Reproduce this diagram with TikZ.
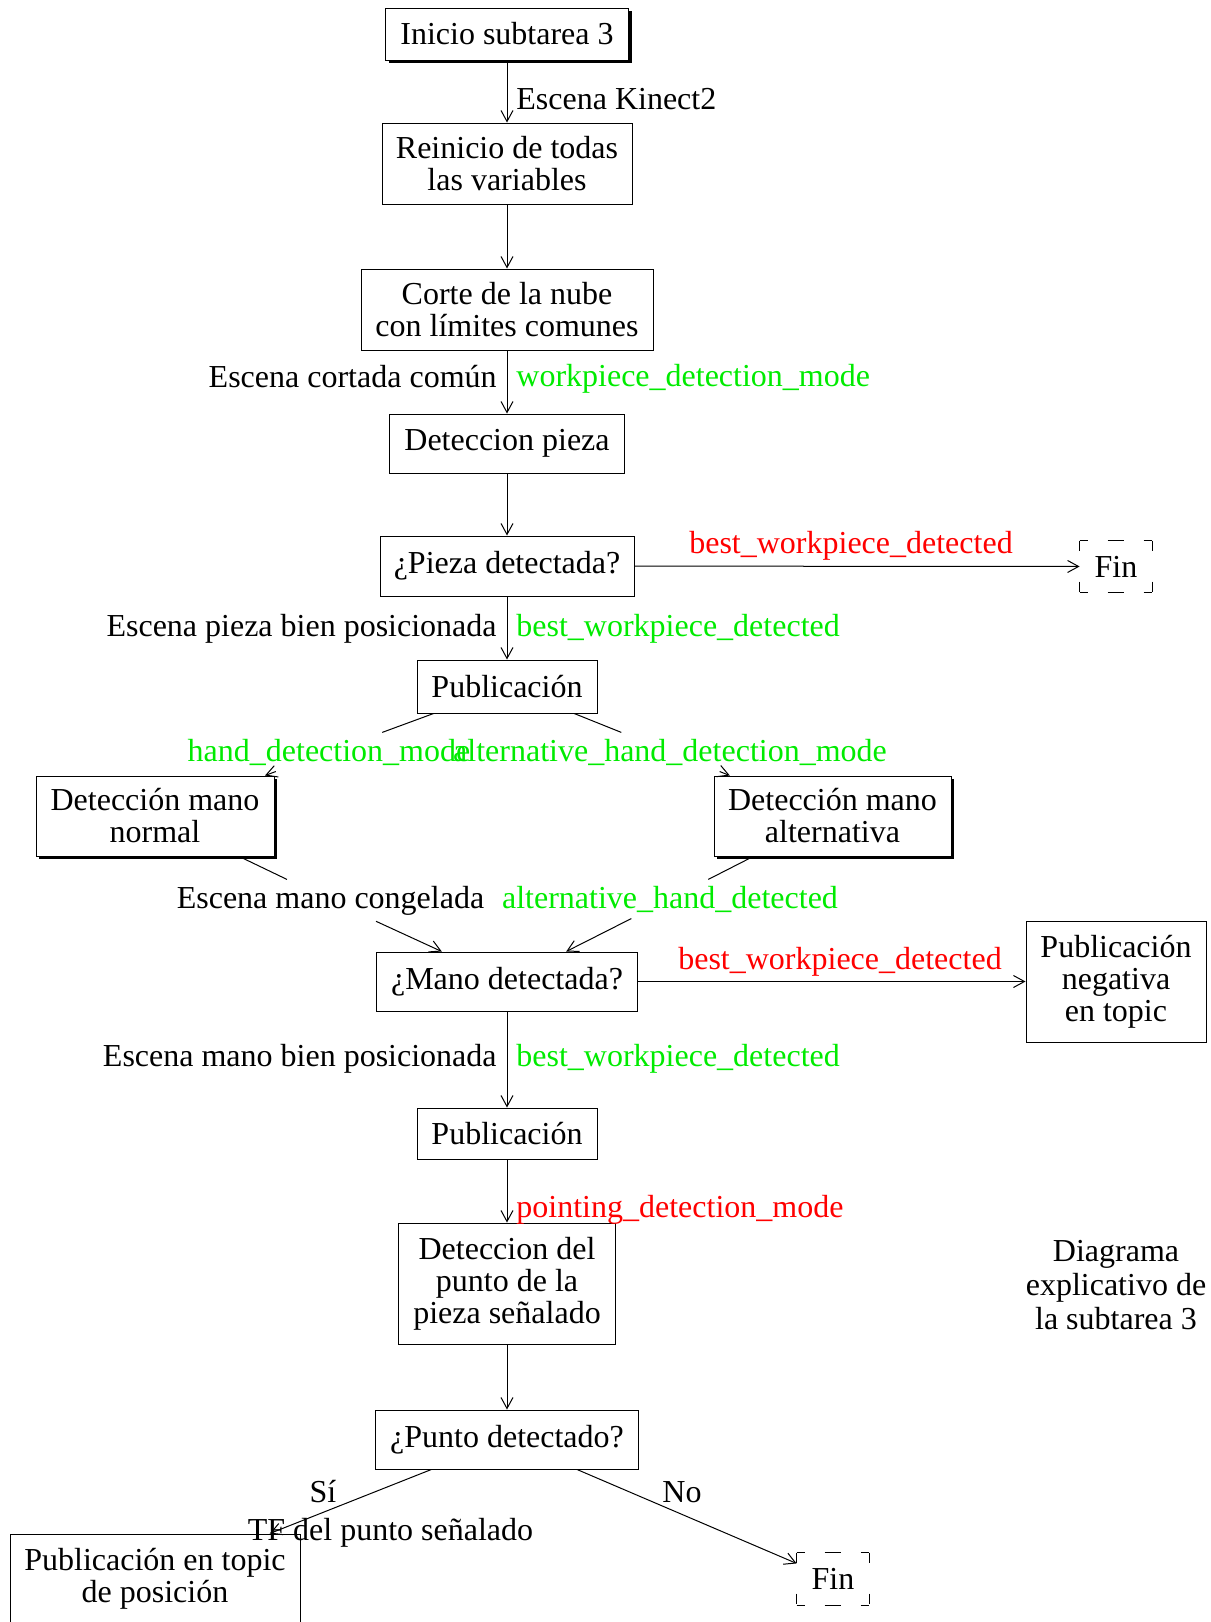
\documentclass[tikz,border=0pt]{standalone}
\usepackage{fontspec}
\setmainfont{Liberation Serif}
\usetikzlibrary{shadows,arrows.meta}
\definecolor{vgreen}{RGB}{0,235,0}
\definecolor{vred}{RGB}{255,0,0}
\newcommand{\finframe}[1]{%
  \draw[line width=0.5pt, dash pattern=on 4pt off 10pt on 8pt off 10pt on 4pt] (#1.north west) -- (#1.north east);
  \draw[line width=0.5pt, dash pattern=on 4pt off 10pt on 8pt off 10pt on 4pt] (#1.south west) -- (#1.south east);
  \draw[line width=0.5pt, dash pattern=on 5pt off 15.5pt on 5pt] (#1.north west) -- (#1.south west);
  \draw[line width=0.5pt, dash pattern=on 5pt off 15.5pt on 5pt] (#1.north east) -- (#1.south east);
}
\begin{document}
\begin{tikzpicture}[x=0.5pt,y=-0.5pt,
  every node/.style={font=\fontsize{16}{16}\selectfont},
  box/.style={draw, line width=0.5pt, inner sep=0pt, align=center, fill=white},
  shbox/.style={box, drop shadow={shadow xshift=1.6pt, shadow yshift=-1.6pt, fill=black, opacity=1}},
  finbox/.style={inner sep=0pt, align=center},
  lbl/.style={inner sep=0.5pt},
  gap/.style={inner sep=3pt, anchor=base},
  gl/.style={text=vgreen},
  rl/.style={text=vred},
  ln/.style={line width=0.5pt},
  arr/.style={line width=0.5pt, -{Straight Barb[length=5.5pt,width=6pt]}},
]
\path[use as bounding box, clip] (0,0) rectangle (1210,1622);

% nodes
\node[shbox, minimum width=121.5pt, minimum height=26pt] (inicio) at (507,34) {Inicio subtarea 3};
\node[box, minimum width=125pt, minimum height=40.5pt] (reinicio) at (507,163.5) {Reinicio de todas\\las variables};
\node[box, minimum width=146pt, minimum height=40.5pt] (corte) at (507,309.5) {Corte de la nube\\con límites comunes};
\node[box, minimum width=117.5pt, minimum height=29.5pt] (detpieza) at (507,443.5) {Deteccion pieza};
\node[box, minimum width=127pt, minimum height=30pt] (piezadet) at (507,566) {¿Pieza detectada?};
\node[finbox, minimum width=36pt, minimum height=25.5pt] (fin1) at (1116,566.5) {Fin};
\node[box, minimum width=90pt, minimum height=26.5pt] (pub1) at (507,686.5) {Publicación};
\node[shbox, minimum width=119pt, minimum height=40pt] (dmn) at (155,816) {Detección mano\\normal};
\node[shbox, minimum width=118.5pt, minimum height=40pt] (dma) at (832.5,816) {Detección mano\\alternativa};
\node[box, minimum width=130.5pt, minimum height=29.5pt] (mano) at (507,981.5) {¿Mano detectada?};
\node[box, minimum width=90pt, minimum height=60.5pt] (pubneg) at (1116,981.5) {Publicación\\negativa\\en topic};
\node[box, minimum width=90pt, minimum height=25.5pt] (pub2) at (507,1133.5) {Publicación};
\node[box, minimum width=108.5pt, minimum height=60.5pt] (detpunto) at (507,1283.5) {Deteccion del\\punto de la\\pieza señalado};
\node[box, minimum width=131.5pt, minimum height=29.5pt] (punto) at (507,1439.5) {¿Punto detectado?};
\node[box, minimum width=145pt, minimum height=45pt] (pubtopic) at (155,1579) {Publicación en topic\\de posición};
\node[finbox, minimum width=36pt, minimum height=26pt] (fin2) at (833,1579) {Fin};
\node[align=center, font=\fontsize{16}{17}\selectfont] (title) at (1116,1285) {Diagrama\\explicativo de\\la subtarea 3};
\finframe{fin1}
\finframe{fin2}

% labels
\node[lbl, anchor=base west] (lkin) at (515,109) {Escena Kinect2};
\node[lbl, anchor=base east] (lcor) at (498,387) {Escena cortada común};
\node[lbl, gl, anchor=base west] (lwdm) at (515,386) {workpiece\_detection\_mode};
\node[lbl, rl, anchor=base] (lbw1) at (851,553) {best\_workpiece\_detected};
\node[lbl, anchor=base east] (lepb) at (498,636) {Escena pieza bien posicionada};
\node[lbl, gl, anchor=base west] (lbw2) at (515,636) {best\_workpiece\_detected};
\node[gap, gl] (lhdm) at (329,761) {hand\_detection\_mode};
\node[gap, gl] (lahdm) at (670,761) {alternative\_hand\_detection\_mode};
\node[gap] (lemc) at (330.5,908) {Escena mano congelada};
\node[gap, gl] (lahd) at (670,908) {alternative\_hand\_detected};
\node[lbl, rl, anchor=base] (lbw3) at (840,969) {best\_workpiece\_detected};
\node[lbl, anchor=base east] (lemb) at (498,1066) {Escena mano bien posicionada};
\node[lbl, gl, anchor=base west] (lbw4) at (515,1066) {best\_workpiece\_detected};
\node[lbl, rl, anchor=base west] (lpdm) at (515,1217) {pointing\_detection\_mode};
\node[lbl, anchor=base] (lsi) at (323,1502) {Sí};
\node[lbl, anchor=base] (ltf) at (390.5,1540) {TF del punto señalado};
\node[lbl, anchor=base] (lno) at (682,1502) {No};

% connectors
\draw[arr] (inicio) -- (reinicio);
\draw[arr] (reinicio) -- (corte);
\draw[arr] (corte) -- (detpieza);
\draw[arr] (detpieza) -- (piezadet);
\draw[arr] (piezadet) -- (fin1);
\draw[arr] (piezadet) -- (pub1);
\draw[ln] (pub1) -- (lhdm);
\draw[arr] (lhdm) -- (dmn);
\draw[ln] (pub1) -- (lahdm);
\draw[arr] (lahdm) -- (dma);
\draw[ln] (dmn) -- (lemc);
\draw[arr] (lemc) -- (mano);
\draw[ln] (dma) -- (lahd);
\draw[arr] (lahd) -- (mano);
\draw[arr] (mano) -- (pubneg);
\draw[arr] (mano) -- (pub2);
\draw[arr] (pub2) -- (detpunto);
\draw[arr] (detpunto) -- (punto);
\draw[arr] (punto) -- (pubtopic);
\draw[arr] (punto) -- (fin2);
\end{tikzpicture}
\end{document}
